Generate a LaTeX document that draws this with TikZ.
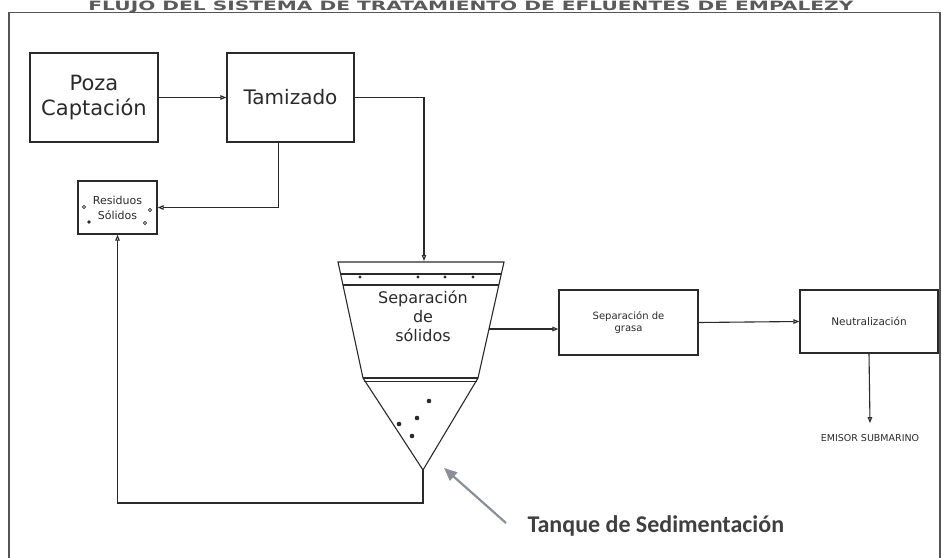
\documentclass[tikz,border=0pt]{standalone}
\usepackage{fontspec}
\setmainfont{DejaVu Sans}
\newfontfamily\carl{Carlito}
\usetikzlibrary{arrows.meta}
\definecolor{ink}{HTML}{2A2A2A}
\definecolor{pointer}{HTML}{8A9098}
\definecolor{titlegray}{HTML}{5A5A5A}
\tikzset{
  box/.style={draw=ink, line width=1.2pt, inner sep=0pt, align=center, text=ink},
  flow/.style={draw=ink, line width=1.1pt, -{Triangle[open, length=6pt, width=4.5pt]}},
  line/.style={draw=ink, line width=1.1pt},
  dotf/.style={fill=ink, draw=none},
  doto/.style={draw=ink, line width=0.7pt, fill=white},
}
\begin{document}
\begin{tikzpicture}[x=1pt,y=-1pt]
\useasboundingbox (0,0) rectangle (942,557);
\clip (0,0) rectangle (942,557);
% title
\node[anchor=base, inner sep=0pt, text=titlegray] (title) at (471,10.5) {\resizebox{765pt}{9.5pt}{\bfseries FLUJO DEL SISTEMA DE TRATAMIENTO DE EFLUENTES DE EMPALEZY}};
% frame
\draw[draw=ink!80, line width=1.4pt] (9,570) -- (9,12.5) -- (940,12.5) -- (940,570);
% boxes
\node[box, minimum width=128pt, minimum height=89pt, font=\fontsize{21}{25}\selectfont] (poza) at (94,97.5) {Poza\\Captación};
\node[box, minimum width=127pt, minimum height=89pt, font=\fontsize{20}{24}\selectfont] (tam) at (290.5,97.5) {Tamizado};
\node[box, minimum width=79pt, minimum height=53pt, font=\fontsize{11}{15}\selectfont] (res) at (117.5,207.5) {Residuos\\Sólidos};
\node[box, minimum width=139pt, minimum height=65pt, font=\fontsize{10}{12}\selectfont] (grasa) at (628.5,322.5) {Separación de\\grasa};
\node[box, minimum width=138pt, minimum height=63pt, font=\fontsize{10.5}{12}\selectfont] (neut) at (869,321.5) {Neutralización};
\node[font=\fontsize{9.5}{11}\selectfont, text=ink, inner sep=1pt] (emisor) at (870,438) {EMISOR SUBMARINO};
% dots in residuos box
\draw[doto] (84,207) circle (1.6);
\draw[doto] (150,210) circle (1.6);
\draw[dotf] (89,222) circle (1.8);
\draw[doto] (145,223) circle (1.6);
% tank
\coordinate (tanktop) at (424,262);
\coordinate (tankapex) at (423,470);
\coordinate (tankout) at (489,329);
\draw[line] (338,262) -- (504,262) -- (478,378) -- (tankapex) -- (363,378) -- cycle;
\draw[line] (340.6,274) -- (501.3,274);
\draw[line] (343,285) -- (499,285);
\draw[line] (363,378) -- (478,378);
\draw[line, line width=0.7pt] (363.7,381.5) -- (477.2,381.5);
\foreach \px in {360,418,445,473} \draw[dotf] (\px,277) circle (1.6);
\foreach \px/\py in {429/401,417/418,399/424,412/436} \draw[dotf] (\px,\py) circle (2.3);
\node[align=center, text=ink, font=\fontsize{16}{19}\selectfont] (sep) at (423,316) {Separación\\de\\sólidos};
% connectors
\draw[flow] (poza.east) -- (tam.west);
\draw[flow] (tam.east) -| ([yshift=1pt]tanktop);
\draw[flow] ([xshift=-12pt]tam.south) |- (res.east);
\draw[flow] (tankapex) -- (423,503) -| (res.south);
\draw[flow] (tankout) -- (tankout -| grasa.west);
\draw[flow] (grasa.east) -- (neut.west);
\draw[flow] (neut.south) -- ([yshift=10pt]emisor.north);
% pointer to tank
\node[anchor=west, font=\carl\bfseries\fontsize{24}{28}\selectfont, text=ink!90] (tanque) at (524,526) {Tanque de Sedimentación};
\coordinate (ptail) at (506,523);
\coordinate (phead) at (444,468);
\draw[draw=pointer, line width=2.2pt, -{Triangle[length=13pt, width=11pt]}] (ptail) -- (phead);
\end{tikzpicture}
\end{document}
